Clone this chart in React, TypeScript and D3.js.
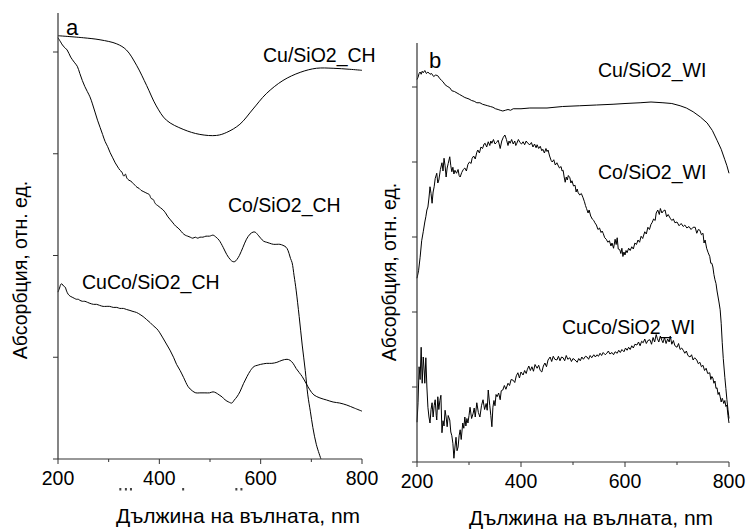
import React from "react";
import * as d3 from "d3";

type P = [number, number];

// ---------- Data (wavelength nm, relative absorbance units; y ticks at integers) ----------
const xMajorTicks = [200, 400, 600, 800];
const xMinorTicks = [300, 500, 700];
const yTicksA = [0, 1, 2, 3, 4];
const yTicksB = [0, 1, 2, 3, 4, 5];

const cuCH: P[] = [
  [200, 4.16], [250, 4.14], [283, 4.12], [316, 4.08], [335, 4.02], [355, 3.87], [375, 3.67],
  [394, 3.47], [414, 3.33], [447, 3.24], [480, 3.19], [513, 3.18], [533, 3.21], [559, 3.29],
  [585, 3.44], [611, 3.59], [644, 3.72], [678, 3.8], [710, 3.84], [743, 3.84], [776, 3.83], [800, 3.82],
];

const coCH: P[] = [
  [200, 4.14], [205, 4.1], [210, 4.06], [218, 4.02], [225, 3.95], [232, 3.9], [238, 3.86], [243, 3.79],
  [248, 3.72], [253, 3.66], [258, 3.61], [263, 3.56], [268, 3.49], [273, 3.41], [278, 3.33], [283, 3.26],
  [288, 3.19], [293, 3.12], [298, 3.07], [303, 3.01], [308, 2.96], [313, 2.91], [318, 2.87], [322, 2.84],
  [326, 2.82], [330, 2.78], [333, 2.8], [336, 2.76], [340, 2.74], [344, 2.73], [348, 2.71], [352, 2.69],
  [356, 2.67], [360, 2.66], [364, 2.64], [368, 2.63], [372, 2.62], [376, 2.61], [380, 2.6], [384, 2.56],
  [388, 2.55], [392, 2.51], [397, 2.49], [402, 2.47], [407, 2.45], [412, 2.42], [417, 2.38], [422, 2.35],
  [427, 2.32], [432, 2.29], [437, 2.27], [441, 2.25], [446, 2.22], [451, 2.2], [456, 2.19], [461, 2.18],
  [466, 2.17], [471, 2.18], [476, 2.17], [480, 2.18], [486, 2.18], [492, 2.19], [499, 2.19], [506, 2.2],
  [512, 2.18], [518, 2.15], [526, 2.08], [533, 2.01], [540, 1.96], [545, 1.94], [549, 1.94], [553, 1.96],
  [558, 2.0], [565, 2.08], [572, 2.16], [579, 2.21], [585, 2.23], [589, 2.23], [595, 2.2], [600, 2.17],
  [606, 2.14], [612, 2.13], [618, 2.12], [625, 2.11], [632, 2.11], [638, 2.11], [644, 2.1], [648, 2.09],
  [652, 2.07], [656, 2.02], [659, 1.97], [662, 1.93], [666, 1.8], [670, 1.66], [676, 1.4], [682, 1.12],
  [688, 0.87], [693, 0.63], [698, 0.47], [703, 0.31], [710, 0.14], [719, 0.0],
];

const cucoCH: P[] = [
  [200, 1.64], [203, 1.68], [206, 1.72], [208, 1.72], [211, 1.7], [214, 1.69], [217, 1.65], [220, 1.62],
  [224, 1.6], [228, 1.59], [232, 1.58], [236, 1.57], [240, 1.57], [243, 1.56], [248, 1.55], [253, 1.55],
  [258, 1.54], [263, 1.53], [270, 1.52], [276, 1.52], [282, 1.51], [289, 1.5], [295, 1.5], [302, 1.5],
  [309, 1.49], [316, 1.49], [322, 1.48], [329, 1.48], [335, 1.47], [342, 1.46], [348, 1.45], [355, 1.44],
  [362, 1.42], [368, 1.4], [375, 1.37], [382, 1.34], [388, 1.31], [395, 1.28], [401, 1.24], [407, 1.19],
  [414, 1.13], [421, 1.07], [428, 1.0], [434, 0.93], [441, 0.87], [448, 0.8], [457, 0.71], [465, 0.67],
  [472, 0.65], [480, 0.65], [490, 0.65], [499, 0.65], [506, 0.66], [512, 0.65], [518, 0.63], [524, 0.61],
  [530, 0.58], [537, 0.56], [543, 0.55], [548, 0.58], [553, 0.61], [559, 0.66], [566, 0.74], [573, 0.81],
  [580, 0.87], [587, 0.91], [593, 0.92], [600, 0.93], [612, 0.94], [622, 0.94], [632, 0.95], [642, 0.97],
  [652, 0.98], [658, 0.97], [664, 0.94], [670, 0.89], [676, 0.85], [682, 0.81], [690, 0.74], [697, 0.68],
  [705, 0.63], [717, 0.6], [730, 0.58], [743, 0.56], [756, 0.55], [770, 0.53], [785, 0.5], [800, 0.47],
];

const cuWI: P[] = [
  [200, 5.1], [202, 5.13], [204, 5.18], [206, 5.2], [208, 5.17], [210, 5.21], [212, 5.19], [215, 5.22],
  [218, 5.18], [221, 5.2], [225, 5.17], [228, 5.18], [232, 5.14], [236, 5.16], [240, 5.15], [244, 5.11],
  [247, 5.09], [250, 5.07], [254, 5.03], [258, 5.01], [263, 4.99], [267, 4.95], [272, 4.94], [277, 4.92],
  [282, 4.9], [287, 4.88], [292, 4.86], [296, 4.85], [300, 4.84], [305, 4.82], [310, 4.81], [315, 4.79],
  [321, 4.79], [326, 4.77], [331, 4.76], [336, 4.75], [341, 4.74], [346, 4.73], [351, 4.71], [356, 4.7],
  [360, 4.69], [365, 4.68], [370, 4.69], [375, 4.7], [380, 4.69], [385, 4.71], [400, 4.71], [417, 4.72],
  [450, 4.72], [480, 4.74], [513, 4.75], [545, 4.76], [577, 4.77], [600, 4.78], [629, 4.79], [650, 4.8],
  [673, 4.79], [690, 4.78], [706, 4.75], [718, 4.72], [731, 4.67], [745, 4.6], [758, 4.52], [768, 4.42],
  [777, 4.29], [785, 4.17], [792, 4.03], [796, 3.95], [800, 3.85],
];

const coWI: P[] = [
  [200, 2.45], [203, 2.55], [206, 2.73], [209, 2.95], [212, 3.07], [215, 3.2], [217, 3.27], [219, 3.36],
  [221, 3.4], [223, 3.52], [225, 3.67], [227, 3.58], [229, 3.45], [231, 3.6], [233, 3.67], [235, 3.78],
  [238, 3.85], [240, 3.72], [242, 3.76], [245, 3.9], [248, 3.99], [250, 3.88], [252, 4.05], [254, 3.95],
  [256, 3.8], [258, 3.92], [260, 3.98], [263, 4.07], [265, 3.95], [267, 3.87], [269, 3.93], [271, 3.84],
  [273, 3.89], [276, 3.85], [279, 3.9], [281, 3.82], [283, 3.8], [286, 3.86], [289, 3.9], [292, 3.92],
  [295, 3.88], [298, 3.97], [301, 4.0], [304, 3.98], [306, 4.05], [309, 4.08], [312, 4.04], [315, 4.13],
  [317, 4.16], [320, 4.12], [323, 4.2], [326, 4.18], [329, 4.24], [331, 4.25], [334, 4.2], [337, 4.27],
  [340, 4.22], [342, 4.28], [344, 4.25], [347, 4.3], [350, 4.24], [353, 4.26], [356, 4.29], [358, 4.24],
  [360, 4.18], [363, 4.28], [366, 4.33], [369, 4.36], [372, 4.3], [375, 4.22], [377, 4.28], [379, 4.25],
  [382, 4.3], [385, 4.24], [388, 4.28], [390, 4.22], [392, 4.25], [395, 4.3], [398, 4.26], [401, 4.24],
  [404, 4.27], [407, 4.23], [410, 4.28], [413, 4.25], [417, 4.23], [420, 4.26], [423, 4.2], [426, 4.24],
  [429, 4.19], [431, 4.23], [434, 4.18], [437, 4.21], [440, 4.15], [442, 4.17], [445, 4.12], [448, 4.18],
  [450, 4.14], [452, 4.16], [455, 4.08], [458, 4.02], [460, 4.0], [463, 4.03], [466, 3.96], [469, 3.99],
  [471, 3.96], [474, 3.92], [477, 3.94], [479, 3.88], [481, 3.89], [483, 3.8], [485, 3.73], [487, 3.8],
  [489, 3.76], [491, 3.82], [494, 3.79], [496, 3.72], [498, 3.75], [501, 3.68], [504, 3.69], [506, 3.6],
  [508, 3.64], [510, 3.59], [513, 3.56], [516, 3.58], [519, 3.53], [522, 3.47], [524, 3.42], [526, 3.38],
  [529, 3.32], [531, 3.36], [534, 3.28], [537, 3.24], [540, 3.22], [542, 3.19], [545, 3.16], [548, 3.1],
  [551, 3.12], [554, 3.06], [556, 3.08], [558, 3.05], [561, 2.99], [564, 2.97], [567, 2.93], [570, 2.95],
  [573, 2.88], [575, 2.92], [578, 2.85], [581, 2.97], [583, 2.9], [585, 2.99], [587, 2.84], [590, 2.83],
  [592, 2.78], [594, 2.85], [596, 2.74], [598, 2.8], [600, 2.76], [602, 2.82], [604, 2.79], [607, 2.85],
  [610, 2.82], [613, 2.87], [616, 2.84], [619, 2.92], [622, 2.9], [625, 2.96], [628, 2.93], [631, 3.01],
  [634, 2.98], [638, 3.07], [641, 3.04], [644, 3.13], [647, 3.1], [650, 3.17], [652, 3.19], [655, 3.24],
  [658, 3.22], [660, 3.32], [663, 3.36], [666, 3.3], [668, 3.38], [671, 3.32], [674, 3.35], [677, 3.36],
  [680, 3.27], [683, 3.3], [687, 3.25], [690, 3.22], [693, 3.24], [696, 3.19], [700, 3.2], [704, 3.15],
  [708, 3.18], [712, 3.14], [715, 3.16], [719, 3.12], [723, 3.14], [727, 3.1], [731, 3.13], [735, 3.13],
  [738, 3.05], [741, 3.1], [744, 3.09], [747, 3.03], [750, 3.05], [752, 2.92], [754, 2.96], [757, 2.85],
  [760, 2.79], [763, 2.74], [765, 2.65], [767, 2.65], [769, 2.6], [771, 2.5], [773, 2.43], [775, 2.38],
  [777, 2.28], [779, 2.2], [781, 2.12], [783, 2.03], [785, 1.85], [787, 1.59], [789, 1.38], [792, 1.13],
  [794, 0.98], [796, 0.83], [798, 0.7], [800, 0.58],
];

const cucoWI: P[] = [
  [200, 0.53], [202, 0.79], [204, 1.27], [206, 1.1], [208, 1.53], [210, 1.05], [212, 1.4], [214, 1.2],
  [215, 1.05], [217, 1.39], [219, 1.0], [221, 0.73], [223, 0.6], [225, 0.52], [227, 0.7], [229, 0.79],
  [231, 0.6], [233, 0.75], [235, 0.83], [237, 0.62], [238, 0.56], [240, 0.87], [242, 0.7], [244, 0.82],
  [246, 0.89], [248, 0.39], [250, 0.55], [252, 0.48], [254, 0.69], [256, 0.6], [258, 0.47], [260, 0.62],
  [263, 0.56], [265, 0.4], [267, 0.35], [269, 0.25], [271, 0.05], [273, 0.2], [275, 0.33], [277, 0.15],
  [279, 0.2], [281, 0.35], [283, 0.43], [285, 0.3], [288, 0.52], [290, 0.45], [292, 0.6], [294, 0.48],
  [296, 0.58], [298, 0.52], [300, 0.62], [302, 0.73], [305, 0.58], [308, 0.65], [310, 0.72], [312, 0.6],
  [315, 0.79], [318, 0.66], [321, 0.6], [324, 0.75], [327, 0.83], [330, 0.7], [333, 0.78], [335, 0.69],
  [337, 0.96], [340, 0.75], [342, 0.62], [344, 0.47], [346, 0.73], [348, 0.82], [350, 0.75], [352, 0.9],
  [354, 0.87], [357, 0.92], [360, 0.83], [362, 0.95], [365, 0.96], [368, 1.02], [371, 0.97], [375, 1.05],
  [378, 1.02], [381, 1.1], [385, 1.09], [388, 1.06], [391, 1.15], [394, 1.19], [397, 1.12], [400, 1.2],
  [404, 1.16], [407, 1.22], [410, 1.18], [412, 1.23], [415, 1.28], [418, 1.22], [421, 1.27], [424, 1.21],
  [427, 1.3], [431, 1.25], [434, 1.29], [437, 1.22], [440, 1.2], [443, 1.28], [446, 1.32], [449, 1.27],
  [452, 1.36], [456, 1.4], [459, 1.34], [462, 1.41], [465, 1.37], [469, 1.36], [472, 1.41], [475, 1.35],
  [478, 1.4], [481, 1.39], [484, 1.35], [487, 1.42], [490, 1.37], [494, 1.39], [497, 1.34], [500, 1.38],
  [504, 1.36], [508, 1.33], [511, 1.38], [514, 1.35], [517, 1.4], [520, 1.37], [524, 1.41], [527, 1.4],
  [530, 1.37], [533, 1.42], [536, 1.39], [540, 1.43], [543, 1.4], [546, 1.43], [549, 1.41], [552, 1.45],
  [555, 1.42], [558, 1.46], [562, 1.43], [565, 1.45], [568, 1.48], [571, 1.44], [575, 1.46], [578, 1.43],
  [581, 1.47], [585, 1.45], [588, 1.49], [591, 1.46], [594, 1.5], [598, 1.47], [601, 1.52], [604, 1.49],
  [607, 1.53], [610, 1.5], [613, 1.55], [616, 1.52], [619, 1.57], [623, 1.56], [626, 1.6], [629, 1.55],
  [632, 1.61], [635, 1.59], [638, 1.64], [641, 1.58], [644, 1.62], [648, 1.63], [651, 1.57], [654, 1.66],
  [657, 1.6], [660, 1.7], [662, 1.65], [665, 1.6], [668, 1.68], [671, 1.62], [673, 1.59], [676, 1.66],
  [679, 1.58], [682, 1.64], [685, 1.6], [687, 1.68], [690, 1.57], [693, 1.62], [696, 1.55], [700, 1.53],
  [703, 1.58], [706, 1.5], [709, 1.52], [712, 1.49], [715, 1.45], [718, 1.48], [721, 1.42], [725, 1.4],
  [728, 1.43], [731, 1.36], [734, 1.39], [738, 1.36], [741, 1.31], [744, 1.33], [747, 1.27], [750, 1.29],
  [753, 1.22], [756, 1.25], [759, 1.18], [763, 1.19], [765, 1.1], [767, 1.14], [769, 1.12], [771, 1.05],
  [773, 1.08], [775, 0.98], [777, 0.99], [779, 0.9], [781, 0.93], [783, 0.87], [785, 0.8], [787, 0.85],
  [788, 0.83], [790, 0.78], [792, 0.82], [794, 0.74], [796, 0.76], [798, 0.62], [800, 0.52],
];

// Ink specks left from a hidden caption under panel a's axis (wavelength positions, nm)
const hiddenSpecks = [323, 334, 344, 447, 552, 562];

const FONT = "Arial, 'Liberation Sans', sans-serif";

type Series = { data: P[]; smooth: boolean };
type Label = { text: string; x: number; y: number };

function Panel(props: {
  x0: number; x1: number; yBottom: number; yTick1: number; yTop: number;
  yTicks: number[]; series: Series[]; labels: Label[];
  letter: Label; title: Label; yTitle: Label; specks?: number[];
}) {
  const { x0, x1, yBottom, yTick1, yTop, yTicks, series, labels, letter, title, yTitle, specks } = props;
  const x = d3.scaleLinear().domain([200, 800]).range([x0, x1]);
  const unit = yBottom - yTick1;
  const maxV = (yBottom - yTop) / unit;
  const y = d3.scaleLinear().domain([0, maxV]).range([yBottom, yTop]);
  const mk = (smooth: boolean) =>
    d3.line<P>().x((d) => x(d[0])).y((d) => y(d[1])).curve(smooth ? d3.curveCatmullRom : d3.curveLinear);
  const axisColor = "#333";
  return (
    <g>
      {series.map((s, i) => (
        <path key={i} d={mk(s.smooth)(s.data) || ""} fill="none" stroke="#000" strokeWidth={1} strokeLinejoin="round" />
      ))}
      <line x1={x0} x2={x0} y1={y(maxV)} y2={yBottom} stroke={axisColor} strokeWidth={1.2} />
      <line x1={x0} x2={x1} y1={yBottom} y2={yBottom} stroke={axisColor} strokeWidth={1.2} />
      {yTicks.map((t) => (
        <line key={"yt" + t} x1={x0 - 5} x2={x0} y1={y(t)} y2={y(t)} stroke={axisColor} strokeWidth={1} />
      ))}
      {xMajorTicks.map((t) => (
        <g key={"xt" + t}>
          <line x1={x(t)} x2={x(t)} y1={yBottom} y2={yBottom + 5} stroke={axisColor} strokeWidth={1} />
          <text x={x(t)} y={yBottom + 26} textAnchor="middle" fontFamily={FONT} fontSize={19.5} fill="#000">{t}</text>
        </g>
      ))}
      {xMinorTicks.map((t) => (
        <line key={"xm" + t} x1={x(t)} x2={x(t)} y1={yBottom} y2={yBottom + 3} stroke={axisColor} strokeWidth={1} />
      ))}
      {(specks || []).map((s, i) => (
        <rect key={"sp" + i} x={x(s) - 1} y={yBottom + 29} width={2} height={2.5} fill="#444" />
      ))}
      {labels.map((l) => (
        <text key={l.text} x={l.x} y={l.y} fontFamily={FONT} fontSize={19.5} fill="#000">{l.text}</text>
      ))}
      <text x={letter.x} y={letter.y} fontFamily={FONT} fontSize={22} fill="#000">{letter.text}</text>
      <text x={title.x} y={title.y} textAnchor="middle" fontFamily={FONT} fontSize={21} fill="#000">{title.text}</text>
      <text transform={`translate(${yTitle.x},${yTitle.y}) rotate(-90)`} textAnchor="middle" fontFamily={FONT} fontSize={19.5} fill="#000">{yTitle.text}</text>
    </g>
  );
}

export default function App() {
  return (
    <svg width={747} height={530} style={{ position: "absolute", left: 0, top: 0, background: "#fff" }}>
      <rect x={0} y={0} width={747} height={530} fill="#fff" />
      <Panel
        x0={58} x1={362} yBottom={459} yTick1={357.25} yTop={13}
        yTicks={yTicksA}
        series={[
          { data: cuCH, smooth: true },
          { data: coCH, smooth: true },
          { data: cucoCH, smooth: true },
        ]}
        labels={[
          { text: "Cu/SiO2_CH", x: 263, y: 62 },
          { text: "Co/SiO2_CH", x: 228, y: 212 },
          { text: "CuCo/SiO2_CH", x: 82, y: 289 },
        ]}
        letter={{ text: "a", x: 66, y: 35 }}
        title={{ text: "Дължина на вълната, nm", x: 238, y: 523 }}
        yTitle={{ text: "Абсорбция, отн. ед.", x: 27, y: 270 }}
        specks={hiddenSpecks}
      />
      <Panel
        x0={417} x1={729} yBottom={462} yTick1={387} yTop={43}
        yTicks={yTicksB}
        series={[
          { data: cuWI, smooth: false },
          { data: coWI, smooth: false },
          { data: cucoWI, smooth: false },
        ]}
        labels={[
          { text: "Cu/SiO2_WI", x: 598, y: 77 },
          { text: "Co/SiO2_WI", x: 598, y: 179 },
          { text: "CuCo/SiO2_WI", x: 562, y: 334 },
        ]}
        letter={{ text: "b", x: 429, y: 68 }}
        title={{ text: "Дължина на вълната, nm", x: 591, y: 525 }}
        yTitle={{ text: "Абсорбция, отн. ед.", x: 396, y: 272 }}
      />
    </svg>
  );
}
